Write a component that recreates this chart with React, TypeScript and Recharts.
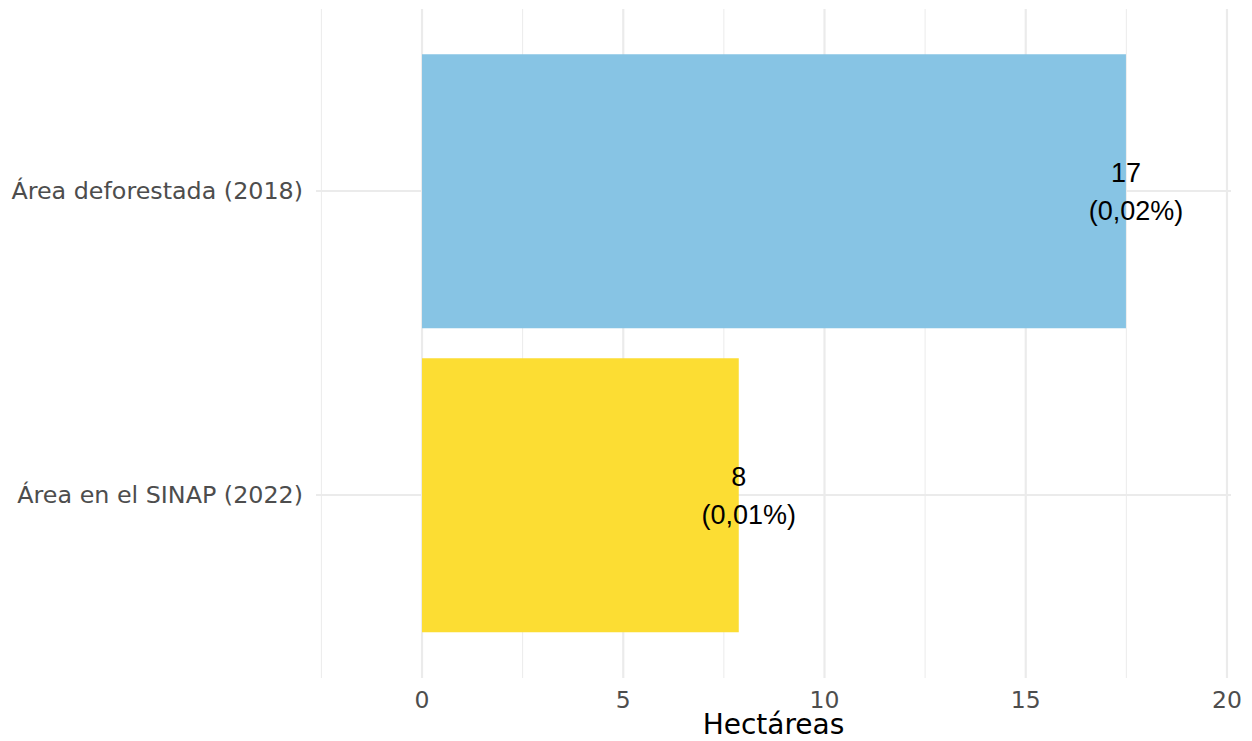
import React from "react";
import {
  BarChart,
  Bar,
  Cell,
  XAxis,
  YAxis,
  CartesianGrid,
  LabelList,
} from "recharts";

// data
const categories = ["Área deforestada (2018)", "Área en el SINAP (2022)"];
const hectares = [17.49, 7.87];
const shares = ["0,02%", "0,01%"];
const barColors = ["#87C4E4", "#FCDD33"];

const majorTicks = [0, 5, 10, 15, 20];
const minorTicks = [-2.5, 2.5, 7.5, 12.5, 17.5];
const xDomain = [-2.634, 20.1];

const data = categories.map((name, i) => ({
  name,
  value: hectares[i],
  share: shares[i],
}));

const axisFont = "'DejaVu Sans', Verdana, sans-serif";
const gridColor = "#EBEBEB";

function BarValueLabel(props: any) {
  const { x, y, width, height, index } = props;
  const cx = x + width;
  const cy = y + height / 2;
  const row = data[index];
  return (
    <text
      x={cx}
      y={cy}
      textAnchor="middle"
      fontFamily="'Liberation Sans', Arial, sans-serif"
      fontSize={27}
      fill="#000000"
    >
      <tspan x={cx} y={cy - 9}>
        {Math.round(row.value)}
      </tspan>
      <tspan x={cx + 10} y={cy + 29}>
        ({row.share})
      </tspan>
    </text>
  );
}

export default function App() {
  return (
    <div style={{ width: 1252, height: 741, background: "#fff" }}>
      <style>{"body{margin:0}"}</style>
      <BarChart
        width={1252}
        height={741}
        data={data}
        layout="vertical"
        margin={{ top: 9, right: 21, bottom: 0, left: 0 }}
        barCategoryGap="5%"
      >
        <CartesianGrid
          xAxisId="minor"
          horizontal={false}
          syncWithTicks
          stroke={gridColor}
          strokeWidth={1}
        />
        <CartesianGrid syncWithTicks stroke={gridColor} strokeWidth={2.2} />
        <XAxis
          xAxisId="minor"
          type="number"
          domain={xDomain}
          ticks={minorTicks}
          allowDataOverflow
          hide
        />
        <XAxis
          type="number"
          domain={xDomain}
          ticks={majorTicks}
          allowDataOverflow
          height={63}
          tickLine={false}
          axisLine={false}
          tickSize={0}
          tickMargin={13}
          tick={{ fill: "#4D4D4D", fontSize: 23.5, fontFamily: axisFont }}
          label={{
            value: "Hectáreas",
            position: "insideBottom",
            offset: 7,
            fill: "#000000",
            fontSize: 28,
            fontFamily: axisFont,
          }}
        />
        <YAxis
          type="category"
          dataKey="name"
          width={316}
          padding={{ top: 30, bottom: 31 }}
          tickLine={false}
          axisLine={false}
          tickSize={0}
          tickMargin={13}
          tick={{ fill: "#4D4D4D", fontSize: 23.8, fontFamily: axisFont }}
        />
        <Bar dataKey="value" isAnimationActive={false}>
          {data.map((d, i) => (
            <Cell key={d.name} fill={barColors[i]} />
          ))}
          <LabelList dataKey="value" content={<BarValueLabel />} />
        </Bar>
      </BarChart>
    </div>
  );
}
